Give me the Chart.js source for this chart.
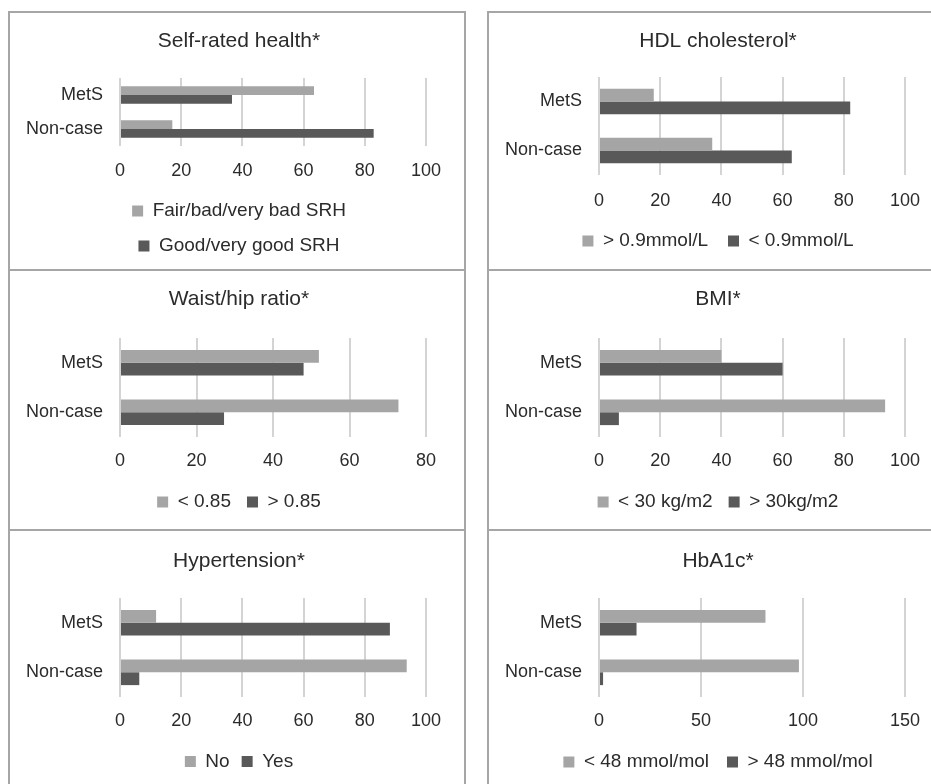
<!DOCTYPE html>
<html>
<head>
<meta charset="utf-8">
<script src="https://cdn.jsdelivr.net/npm/chart.js@4.4.1/dist/chart.umd.min.js"></script>
<style>
  body { margin: 0; background: #fff; width: 931px; height: 784px; overflow: hidden; position: relative; }
  .box { position: absolute; border: 2px solid #a6a6a6; box-sizing: border-box; }
  canvas { position: absolute; }
</style>
</head>
<body>
<div class="box" style="left:8px;top:11px;width:458px;height:260px"></div>
<div class="box" style="left:487px;top:11px;width:458px;height:260px"></div>
<div class="box" style="left:8px;top:269px;width:458px;height:262px"></div>
<div class="box" style="left:487px;top:269px;width:458px;height:262px"></div>
<div class="box" style="left:8px;top:529px;width:458px;height:270px"></div>
<div class="box" style="left:487px;top:529px;width:458px;height:270px"></div>

<script>
// --- DATA ---
const categories = ['MetS', 'Non-case'];

const srhLegend = ['Fair/bad/very bad SRH', 'Good/very good SRH'];
const srhFair = [63.4, 17.1];
const srhGood = [36.6, 82.9];

const hdlLegend = ['> 0.9mmol/L', '< 0.9mmol/L'];
const hdlAbove = [17.9, 37.0];
const hdlBelow = [82.1, 63.0];

const whrLegend = ['< 0.85', '> 0.85'];
const whrBelow = [52.0, 72.8];
const whrAbove = [48.0, 27.2];

const bmiLegend = ['< 30 kg/m2', '> 30kg/m2'];
const bmiBelow = [40.0, 93.5];
const bmiAbove = [60.0, 6.5];

const htnLegend = ['No', 'Yes'];
const htnNo = [11.8, 93.7];
const htnYes = [88.2, 6.3];

const hbaLegend = ['< 48 mmol/mol', '> 48 mmol/mol'];
const hbaBelow = [81.6, 98.0];
const hbaAbove = [18.4, 2.0];

const ticks100 = [0, 20, 40, 60, 80, 100];
const ticks80 = [0, 20, 40, 60, 80];
const ticks150 = [0, 50, 100, 150];

// --- STYLE ---
const LIGHT = '#a5a5a5';
const DARK = '#595959';
const GRID = '#d4d4d4';
const TEXT = '#2b2b2b';
const TICK_FONT = 18, TITLE_FONT = 21, LEGEND_FONT = 19;

Chart.defaults.font.family = "'Liberation Sans', Arial, sans-serif";
Chart.defaults.font.size = TICK_FONT;
Chart.defaults.color = TEXT;

// --- LAYOUT (canvas coords) ---
const panels = [
  { left: 10, top: 13, h: 256, title: 'Self-rated health*', legend: srhLegend, a: srhFair, b: srhGood, ticks: ticks100,
    titleY: 28, areaTop: 65, areaBottom: 133, tickY: 158, legendY: 198, legendPad: 16, rows: 2 },
  { left: 489, top: 13, h: 256, title: 'HDL cholesterol*', legend: hdlLegend, a: hdlAbove, b: hdlBelow, ticks: ticks100,
    titleY: 28, areaTop: 64, areaBottom: 162, tickY: 188, legendY: 228, legendPad: 20, rows: 1 },
  { left: 10, top: 271, h: 258, title: 'Waist/hip ratio*', legend: whrLegend, a: whrBelow, b: whrAbove, ticks: ticks80,
    titleY: 28, areaTop: 67, areaBottom: 166, tickY: 190, legendY: 231, legendPad: 16, rows: 1 },
  { left: 489, top: 271, h: 258, title: 'BMI*', legend: bmiLegend, a: bmiBelow, b: bmiAbove, ticks: ticks100,
    titleY: 28, areaTop: 67, areaBottom: 166, tickY: 190, legendY: 231, legendPad: 16, rows: 1 },
  { left: 10, top: 531, h: 266, title: 'Hypertension*', legend: htnLegend, a: htnNo, b: htnYes, ticks: ticks100,
    titleY: 30, areaTop: 67, areaBottom: 166, tickY: 190, legendY: 230.5, legendPad: 12, rows: 1 },
  { left: 489, top: 531, h: 266, title: 'HbA1c*', legend: hbaLegend, a: hbaBelow, b: hbaAbove, ticks: ticks150,
    titleY: 30, areaTop: 67, areaBottom: 166, tickY: 190, legendY: 231, legendPad: 18, rows: 1 }
];

const CANVAS_W = 458, AREA_LEFT = 110, AREA_RIGHT = 416;

panels.forEach(p => {
  const canvas = document.createElement('canvas');
  canvas.width = CANVAS_W; canvas.height = p.h;
  canvas.style.left = p.left + 'px'; canvas.style.top = p.top + 'px';
  document.body.appendChild(canvas);

  const legendTop = p.legendY - p.legendPad - LEGEND_FONT / 2;
  const legendH = p.rows * (LEGEND_FONT + p.legendPad) + 10;
  const padBottom = p.h - legendTop - legendH;
  const xAxisH = legendTop - p.areaBottom;
  const step = p.ticks[1] - p.ticks[0];
  const titleLine = TITLE_FONT * 1.2;

  new Chart(canvas, {
    type: 'bar',
    data: {
      labels: categories,
      datasets: [
        { label: p.legend[0], data: p.a, backgroundColor: LIGHT, borderWidth: 0 },
        { label: p.legend[1], data: p.b, backgroundColor: DARK, borderWidth: 0 }
      ]
    },
    options: {
      indexAxis: 'y', responsive: false, animation: false, devicePixelRatio: 1,
      categoryPercentage: 0.52, barPercentage: 1,
      layout: { padding: { left: 0, right: 0, top: 0, bottom: padBottom } },
      scales: {
        x: {
          min: p.ticks[0], max: p.ticks[p.ticks.length - 1],
          ticks: { stepSize: step, padding: p.tickY - p.areaBottom - TICK_FONT * 0.6, color: TEXT },
          grid: { color: GRID, lineWidth: 2, drawTicks: false },
          border: { display: false },
          afterFit: s => { s.height = xAxisH; }
        },
        y: {
          ticks: { padding: 17, color: TEXT },
          grid: { display: false, drawTicks: false },
          border: { display: false },
          afterFit: s => { s.width = AREA_LEFT; }
        },
        // empty right-hand axis: keeps room on the right so title and legend centre like the original
        yRight: {
          axis: 'y', type: 'category', position: 'right',
          ticks: { display: false },
          grid: { display: false, drawTicks: false },
          border: { display: false },
          afterFit: s => { s.width = CANVAS_W - AREA_RIGHT; }
        }
      },
      plugins: {
        title: {
          display: true, text: p.title, color: TEXT,
          font: { size: TITLE_FONT, weight: 'normal' },
          padding: { top: p.titleY - titleLine / 2, bottom: p.areaTop - p.titleY - titleLine / 2 }
        },
        legend: {
          position: 'bottom',
          labels: { boxWidth: 11, boxHeight: 11, padding: p.legendPad, color: TEXT, font: { size: LEGEND_FONT } }
        },
        tooltip: { enabled: false }
      }
    }
  });
});
</script>
</body>
</html>
